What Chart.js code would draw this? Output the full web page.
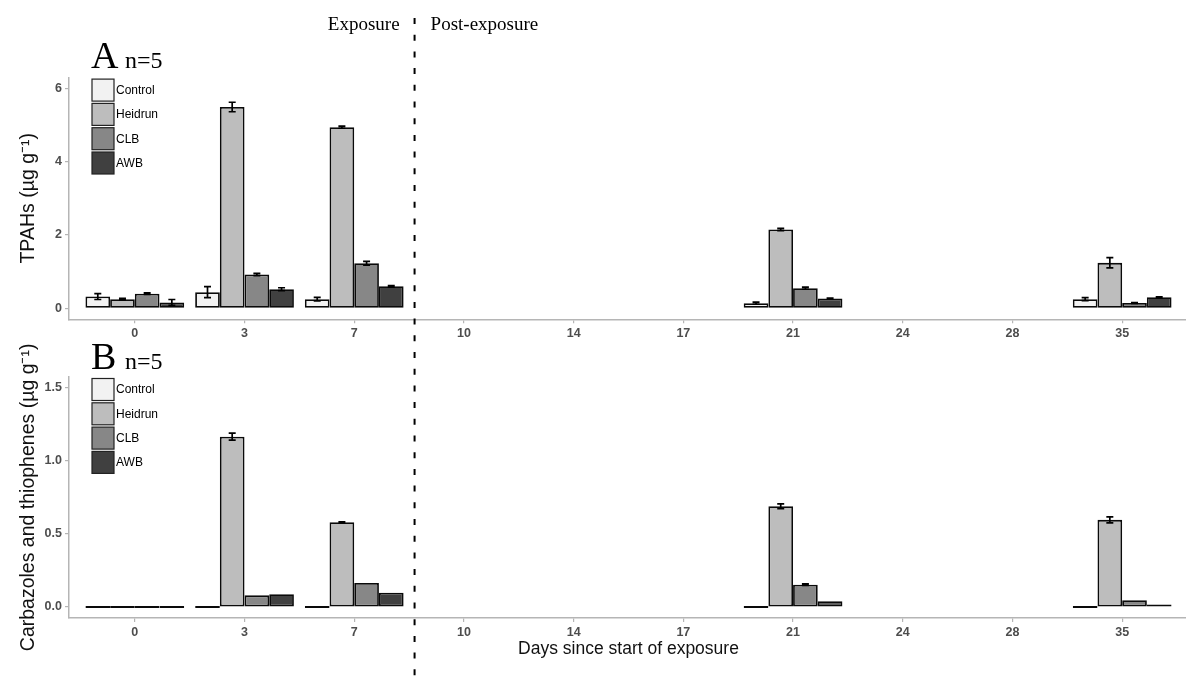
<!DOCTYPE html>
<html>
<head>
<meta charset="utf-8">
<script src="https://cdn.jsdelivr.net/npm/chart.js@4.4.1/dist/chart.umd.min.js"></script>
<style>
  html, body { margin: 0; padding: 0; background: #fff; overflow: hidden; }
  #wrap { position: relative; width: 1186px; height: 686px; overflow: hidden; }
  #topBox { position: absolute; left: 0; top: 0; width: 1188px; height: 345px; }
  #botBox { position: absolute; left: 0; top: 330px; width: 1188px; height: 356px; }
</style>
</head>
<body>
<div id="wrap">
  <div id="topBox"><canvas id="tpahChart"></canvas></div>
  <div id="botBox"><canvas id="carbChart"></canvas></div>
</div>
<script>
// days since start of exposure (x categories)
const days = ['0', '3', '7', '10', '14', '17', '21', '24', '28', '35'];
const groups = ['Control', 'Heidrun', 'CLB', 'AWB'];
const fills = ['#f2f2f2', '#bdbdbd', '#878787', '#404040'];

// panel A: TPAHs (ug/g), mean and error
const tpahControl    = [0.32, 0.44, 0.25, null, null, null, 0.14, null, null, 0.25];
const tpahControlErr = [0.08, 0.15, 0.05, null, null, null, 0.03, null, null, 0.04];
const tpahHeidrun    = [0.25, 5.49, 4.94, null, null, null, 2.15, null, null, 1.24];
const tpahHeidrunErr = [0.02, 0.13, 0.03, null, null, null, 0.03, null, null, 0.14];
const tpahCLB        = [0.40, 0.92, 1.23, null, null, null, 0.55, null, null, 0.145];
const tpahCLBErr     = [0.02, 0.03, 0.05, null, null, null, 0.03, null, null, 0.01];
const tpahAWB        = [0.16, 0.52, 0.60, null, null, null, 0.27, null, null, 0.30];
const tpahAWBErr     = [0.08, 0.04, 0.02, null, null, null, 0.01, null, null, 0.01];
const tpahTicks = [0, 2, 4, 6];

// panel B: carbazoles and thiophenes (ug/g)
const carbControl    = [0, 0, 0, null, null, null, 0, null, null, 0];
const carbControlErr = [0, 0, 0, null, null, null, 0, null, null, 0];
const carbHeidrun    = [0, 1.165, 0.58, null, null, null, 0.689, null, null, 0.596];
const carbHeidrunErr = [0, 0.024, 0.003, null, null, null, 0.017, null, null, 0.02];
const carbCLB        = [0, 0.08, 0.164, null, null, null, 0.153, null, null, 0.046];
const carbCLBErr     = [0, 0, 0, null, null, null, 0.005, null, null, 0];
const carbAWB        = [0, 0.087, 0.098, null, null, null, 0.039, null, null, 0.018];
const carbAWBErr     = [0, 0, 0, null, null, null, 0, null, null, 0];
const carbTicks = [0, 0.5, 1.0, 1.5];

const phaseBoundary = 2.55;   // between day 7 and day 10
const axisGrey = '#b5b5b5';
const tickFont = { family: '"Liberation Sans", Arial, sans-serif', size: 12.5, weight: 'bold' };
const titleFont = { family: '"Liberation Sans", Arial, sans-serif', size: 19.5 };

// error bars drawn from the bar elements + y scale
const errorBars = {
  id: 'errorBars',
  afterDatasetsDraw(chart) {
    const ctx = chart.ctx, y = chart.scales.y;
    ctx.save();
    ctx.strokeStyle = '#000';
    ctx.lineWidth = 1.7;
    chart.data.datasets.forEach((ds, di) => {
      chart.getDatasetMeta(di).data.forEach((bar, i) => {
        const v = ds.data[i].y, e = ds.errors[i];
        if (v == null || !e) return;
        const x = bar.x, half = 3.5;
        const top = y.getPixelForValue(v + e), bot = y.getPixelForValue(v - e);
        ctx.beginPath();
        ctx.moveTo(x, top); ctx.lineTo(x, bot);
        ctx.moveTo(x - half, top); ctx.lineTo(x + half, top);
        ctx.moveTo(x - half, bot); ctx.lineTo(x + half, bot);
        ctx.stroke();
      });
    });
    ctx.restore();
  }
};

// stacked key boxes inside the panel
const boxLegend = {
  id: 'boxLegend',
  afterDraw(chart) {
    const { ctx, chartArea } = chart;
    const x0 = chartArea.left + 23, y0 = chartArea.top + 1.8;
    ctx.save();
    chart.data.datasets.forEach((ds, i) => {
      const y = y0 + i * 24.3;
      ctx.fillStyle = ds.backgroundColor;
      ctx.fillRect(x0, y, 22, 22);
      ctx.strokeStyle = '#222';
      ctx.lineWidth = 1.2;
      ctx.strokeRect(x0, y, 22, 22);
      ctx.fillStyle = '#000';
      ctx.font = '12px "Liberation Sans", Arial, sans-serif';
      ctx.textBaseline = 'middle';
      ctx.textAlign = 'left';
      ctx.fillText(ds.label, x0 + 24, y + 11.5);
    });
    ctx.restore();
  }
};

const panelTag = {
  id: 'panelTag',
  afterDraw(chart, args, o) {
    const { ctx, chartArea } = chart;
    const base = chartArea.top - o.lift;
    ctx.save();
    ctx.fillStyle = '#000';
    ctx.textBaseline = 'alphabetic';
    ctx.textAlign = 'left';
    ctx.font = '38px "Liberation Serif", "Times New Roman", serif';
    ctx.fillText(o.letter, chartArea.left + 22, base);
    ctx.font = '24px "Liberation Serif", "Times New Roman", serif';
    ctx.fillText('n=5', chartArea.left + 56, base);
    ctx.restore();
  }
};

const phaseMarks = {
  id: 'phaseMarks',
  afterDraw(chart, args, o) {
    const ctx = chart.ctx;
    const x = chart.scales.x.getPixelForValue(phaseBoundary);
    ctx.save();
    ctx.strokeStyle = '#000';
    ctx.lineWidth = 2;
    ctx.setLineDash([6, 10.7]);
    ctx.lineDashOffset = o.dashOffset;
    ctx.beginPath();
    ctx.moveTo(x, o.from);
    ctx.lineTo(x, o.to);
    ctx.stroke();
    ctx.setLineDash([]);
    if (o.showText) {
      ctx.font = '19px "Liberation Serif", "Times New Roman", serif';
      ctx.fillStyle = '#000';
      ctx.textBaseline = 'alphabetic';
      ctx.textAlign = 'right';
      ctx.fillText('Exposure', x - 15, 30);
      ctx.textAlign = 'left';
      ctx.fillText('Post-exposure', x + 16, 30);
    }
    ctx.restore();
  }
};

function buildDatasets(valueSets, errorSets) {
  return groups.map((g, k) => ({
    label: g,
    data: valueSets[k].map((v, i) => ({ x: i, y: v })),
    errors: errorSets[k],
    backgroundColor: fills[k],
    borderColor: '#0a0a0a',
    borderWidth: 1.8,
    borderSkipped: false,
    minBarLength: 2,
    categoryPercentage: 0.9,
    barPercentage: 1.0
  }));
}

function panelOptions(cfg) {
  return {
    responsive: true,
    maintainAspectRatio: false,
    animation: false,
    layout: { padding: { top: cfg.padTop, left: 0, right: 0, bottom: 0 } },
    plugins: {
      legend: { display: false },
      tooltip: { enabled: false },
      panelTag: { letter: cfg.letter, lift: cfg.lift },
      phaseMarks: cfg.phase
    },
    scales: {
      x: {
        type: 'linear', min: -0.6, max: 9.6, offset: false,
        afterBuildTicks: s => { s.ticks = days.map((d, i) => ({ value: i })); },
        afterFit: s => { s.height = cfg.xHeight; },
        ticks: { callback: v => days[v], autoSkip: false, maxRotation: 0, padding: 3, color: '#4d4d4d', font: tickFont },
        grid: { offset: false, drawOnChartArea: false, drawTicks: true, tickLength: 4, color: axisGrey, lineWidth: 1.2 },
        border: { display: true, color: axisGrey, width: 1.5 },
        title: cfg.xTitle
          ? { display: true, text: cfg.xTitle, color: '#111', font: { family: titleFont.family, size: 17.5 }, padding: { top: 4, bottom: 26 } }
          : { display: false }
      },
      y: {
        min: cfg.yMin, max: cfg.yMax,
        afterBuildTicks: s => { s.ticks = cfg.yTicks.map(v => ({ value: v })); },
        afterFit: s => { s.width = 69; },
        ticks: { callback: cfg.yFormat, padding: 3, color: '#4d4d4d', font: tickFont },
        grid: { drawOnChartArea: false, drawTicks: true, tickLength: 4, color: axisGrey, lineWidth: 1.2 },
        border: { display: true, color: axisGrey, width: 1.5 },
        title: { display: true, text: cfg.yTitle, color: '#111', font: titleFont, padding: { top: 17, bottom: 0 } }
      }
    }
  };
}

const panelPlugins = [errorBars, boxLegend, panelTag, phaseMarks];

new Chart(document.getElementById('tpahChart'), {
  type: 'bar',
  data: {
    datasets: buildDatasets(
      [tpahControl, tpahHeidrun, tpahCLB, tpahAWB],
      [tpahControlErr, tpahHeidrunErr, tpahCLBErr, tpahAWBErr])
  },
  options: panelOptions({
    padTop: 77.3, xHeight: 25.7, letter: 'A', lift: 9,
    yMin: -0.3, yMax: 6.3, yTicks: tpahTicks, yFormat: v => String(v),
    yTitle: 'TPAHs (µg g⁻¹)',
    phase: { from: 18, to: 330, dashOffset: 0, showText: true }
  }),
  plugins: panelPlugins
});

new Chart(document.getElementById('carbChart'), {
  type: 'bar',
  data: {
    datasets: buildDatasets(
      [carbControl, carbHeidrun, carbCLB, carbAWB],
      [carbControlErr, carbHeidrunErr, carbCLBErr, carbAWBErr])
  },
  options: panelOptions({
    padTop: 46.7, xHeight: 68, letter: 'B', lift: 8,
    yMin: -0.075, yMax: 1.575, yTicks: carbTicks, yFormat: v => v.toFixed(1),
    yTitle: 'Carbazoles and thiophenes (µg g⁻¹)',
    xTitle: 'Days since start of exposure',
    phase: { from: 0, to: 356, dashOffset: (330 - 18) % 16.7, showText: false }
  }),
  plugins: panelPlugins
});
</script>
</body>
</html>
